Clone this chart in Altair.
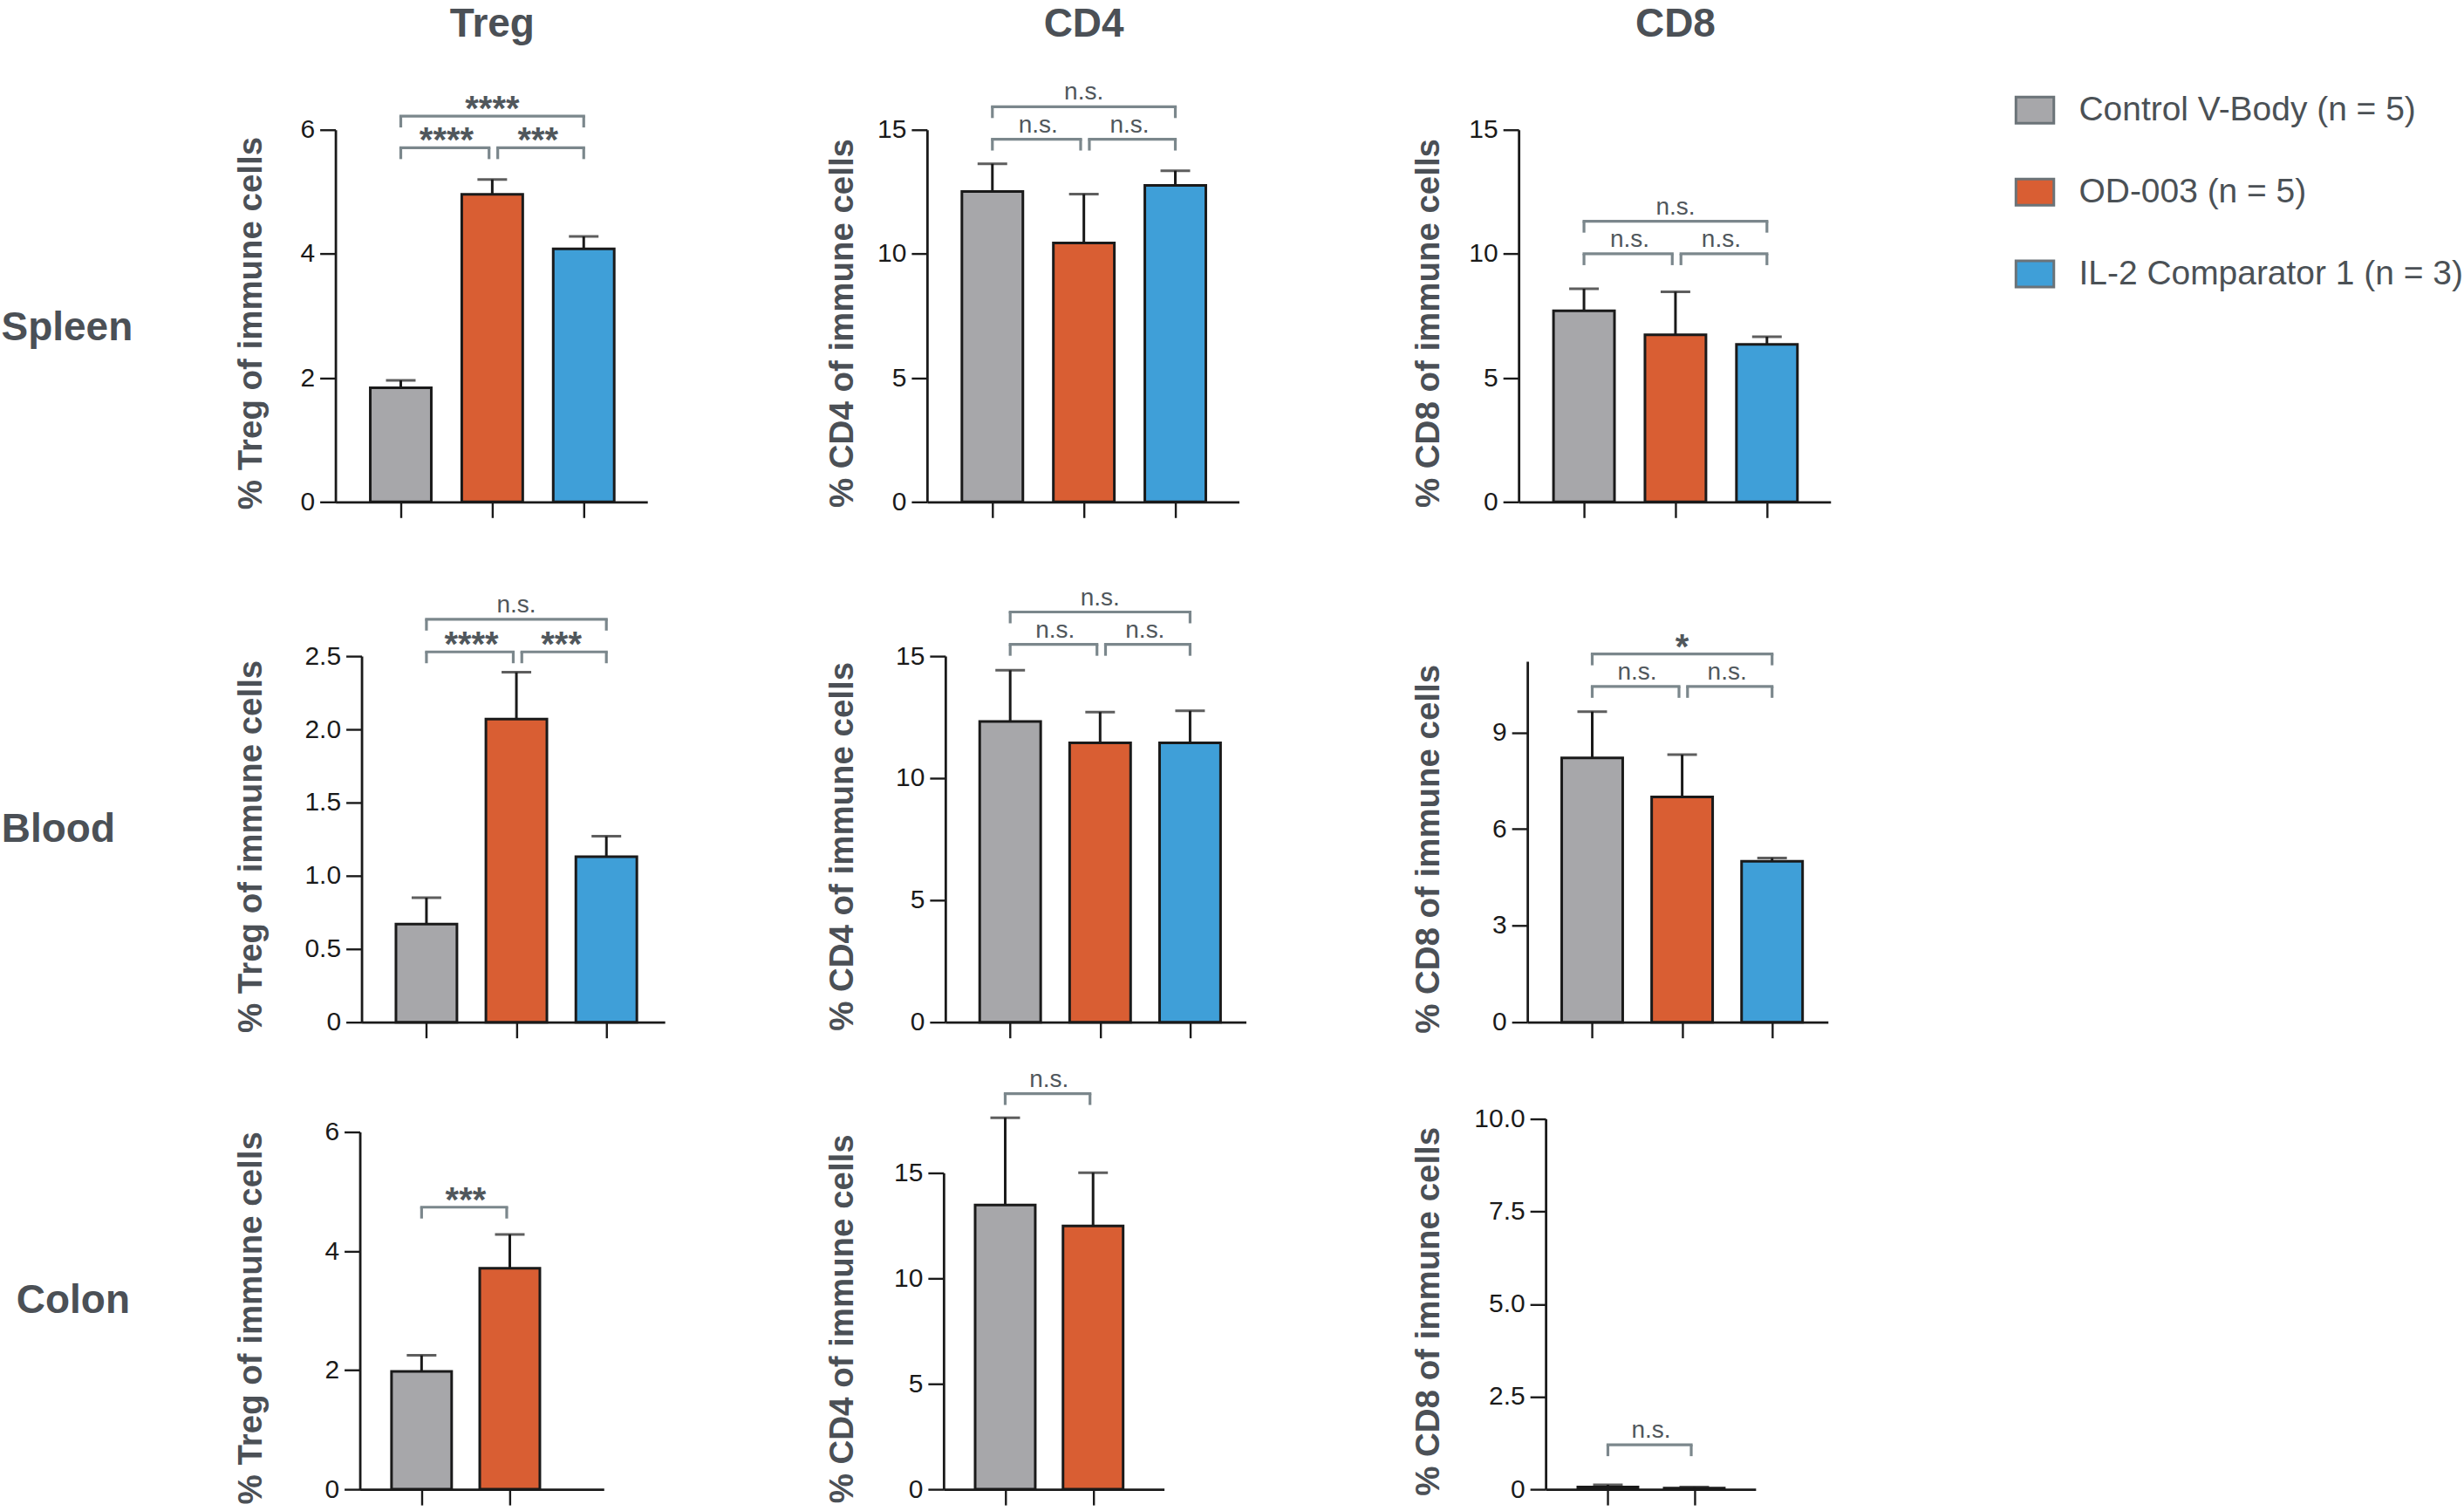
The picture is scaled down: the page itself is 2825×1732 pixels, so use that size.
import altair as alt
import pandas as pd

# ---------------- data ----------------
GROUPS = ["Control V-Body (n = 5)", "OD-003 (n = 5)", "IL-2 Comparator 1 (n = 3)"]
COLORS = ["#a7a7aa", "#d95e33", "#3f9fd8"]
ROW_NAMES = ["Spleen", "Blood", "Colon"]
COL_NAMES = ["Treg", "CD4", "CD8"]

spleen_treg_mean = [1.84, 4.96, 4.08]
spleen_treg_err = [0.12, 0.24, 0.20]
spleen_cd4_mean = [12.51, 10.44, 12.76]
spleen_cd4_err = [1.12, 1.97, 0.59]
spleen_cd8_mean = [7.70, 6.74, 6.35]
spleen_cd8_err = [0.89, 1.73, 0.31]

blood_treg_mean = [0.67, 2.07, 1.13]
blood_treg_err = [0.18, 0.32, 0.14]
blood_cd4_mean = [12.32, 11.45, 11.45]
blood_cd4_err = [2.10, 1.26, 1.31]
blood_cd8_mean = [8.21, 7.00, 5.00]
blood_cd8_err = [1.44, 1.31, 0.10]

colon_treg_mean = [1.98, 3.71]
colon_treg_err = [0.27, 0.57]
colon_cd4_mean = [13.48, 12.49]
colon_cd4_err = [4.14, 2.52]
colon_cd8_mean = [0.06, 0.03]
colon_cd8_err = [0.06, 0.03]

# significance brackets: (from group, to group, bracket height, label)
spleen_treg_sig = [(0, 1, 5.71, "****"), (1, 2, 5.71, "***"), (0, 2, 6.22, "****")]
spleen_cd4_sig = [(0, 1, 14.62, "n.s."), (1, 2, 14.62, "n.s."), (0, 2, 15.93, "n.s.")]
spleen_cd8_sig = [(0, 1, 10.0, "n.s."), (1, 2, 10.0, "n.s."), (0, 2, 11.31, "n.s.")]
blood_treg_sig = [(0, 1, 2.529, "****"), (1, 2, 2.529, "***"), (0, 2, 2.752, "n.s.")]
blood_cd4_sig = [(0, 1, 15.48, "n.s."), (1, 2, 15.48, "n.s."), (0, 2, 16.81, "n.s.")]
blood_cd8_sig = [(0, 1, 10.43, "n.s."), (1, 2, 10.43, "n.s."), (0, 2, 11.44, "*")]
colon_treg_sig = [(0, 1, 4.737, "***")]
colon_cd4_sig = [(0, 1, 18.76, "n.s.")]
colon_cd8_sig = [(0, 1, 1.2, "n.s.")]

# y axis: (domain max, tick values)
Y_TREG_SPLEEN = (6, [0, 2, 4, 6])
Y_15 = (15, [0, 5, 10, 15])
Y_TREG_BLOOD = (2.5, [0, 0.5, 1.0, 1.5, 2.0, 2.5])
Y_CD8_BLOOD = (11.21, [0, 3, 6, 9])
Y_CD8_COLON = (10, [0, 2.5, 5.0, 7.5, 10.0])

# ---------------- style / layout ----------------
FONT = "Liberation Sans"
INK = "#1a1a1a"
TITLE_C = "#4b5056"
BRACKET_C = "#7b878c"
SIG_C = "#50575c"
INT_FMT = "format(datum.value, 'd')"
DEC_FMT = "datum.value == 0 ? '0' : format(datum.value, '.1f')"

LABEL_W = 400
COL_START = [400, 1080, 1760]
COL_W = [680, 680, 370]
TITLE_XB = [308, 987, 1659]   # where the rotated y titles sit, one per column

LEGEND = alt.Legend(
    title=None, orient="none", direction="vertical", legendX=2316, legendY=106,
    symbolType="M-1.45,-1L1.45,-1L1.45,1L-1.45,1Z", symbolSize=900,
    symbolStrokeColor="#6b7378", symbolStrokeWidth=3, symbolOpacity=1,
    labelFont=FONT, labelFontSize=39, labelColor="#4b5156", labelOffset=31,
    labelLimit=1000, rowPadding=51, padding=0,
)
COLOR_SCALE = alt.Scale(domain=GROUPS, range=COLORS)


def panel(means, errs, sig, yspec, fmt, ytitle, col, axis_x, cell_h, L, a, step, h,
          bar_w=70, col_title=None, title_y=None):
    n = len(means)
    ymax, yticks = yspec
    dx = axis_x - COL_START[col]
    df = pd.DataFrame({
        "pos": list(range(n)),
        "group": GROUPS[:n],
        "mean": means,
        "top": [m + e for m, e in zip(means, errs)],
    })
    rows, legs = [], []
    for i, j, y, lab in sig:
        x1 = i + (0.06 if (i == 1) else 0.0)
        x2 = j - (0.035 if (j == 1) else 0.0)
        rows.append({"x1": x1, "x2": x2, "y": y, "label": lab, "mid": (i + j) / 2})
        legs.append({"lx": x1, "y": y})
        legs.append({"lx": x2, "y": y})
    bdf = pd.DataFrame(rows)
    ldf = pd.DataFrame(legs)

    if title_y is None:
        title_y = cell_h - h / 2 + 8

    xs = alt.Scale(domain=[-a / step, (L - a) / step], range=[dx, dx + L], nice=False, zero=False)
    ys = alt.Scale(domain=[0, ymax], range=[cell_h, cell_h - h], nice=False, zero=False)
    xaxis = alt.Axis(values=list(range(n)), labels=False, title=None, grid=False,
                     tickSize=18, tickWidth=2.4, tickColor=INK,
                     domainColor=INK, domainWidth=2.8)
    yaxis = alt.Axis(values=yticks, labelExpr=fmt, title=ytitle, grid=False, offset=-dx,
                     tickSize=18, tickWidth=2.4, tickColor=INK,
                     domainColor=INK, domainWidth=2.8,
                     labelFont=FONT, labelFontSize=30, labelColor=INK, labelPadding=6,
                     titleFont=FONT, titleFontSize=38.5, titleFontWeight="bold",
                     titleColor=TITLE_C, titlePadding=36,
                     titleX=TITLE_XB[col] - axis_x, titleY=title_y)

    def X(f):
        return alt.X(f, type="quantitative", scale=xs, axis=xaxis)

    def Y(f):
        return alt.Y(f, type="quantitative", scale=ys, axis=yaxis)

    bars = alt.Chart(df).mark_bar(size=bar_w, stroke=INK, strokeWidth=3).encode(
        x=X("pos"), y=Y("mean"),
        color=alt.Color("group:N", scale=COLOR_SCALE, legend=LEGEND),
    )
    stem = alt.Chart(df).mark_rule(color=INK, strokeWidth=3).encode(
        x=X("pos"), y=Y("mean"), y2="top:Q")
    cap = alt.Chart(df).mark_tick(orient="horizontal", size=34, thickness=3, color=INK).encode(
        x=X("pos"), y=Y("top"))
    hline = alt.Chart(bdf).mark_rule(color=BRACKET_C, strokeWidth=3.2, strokeCap="square").encode(
        x=X("x1"), x2="x2:Q", y=Y("y"))
    leg = alt.Chart(ldf).mark_rule(color=BRACKET_C, strokeWidth=3.2, y2Offset=13).encode(
        x=X("lx"), y=Y("y"), y2="y:Q")
    stars = alt.Chart(bdf).transform_filter("indexof(datum.label, '*') >= 0").mark_text(
        font=FONT, fontSize=40, fontWeight="bold", color=SIG_C, baseline="alphabetic", dy=5
    ).encode(x=X("mid"), y=Y("y"), text="label:N")
    ns = alt.Chart(bdf).transform_filter("datum.label == 'n.s.'").mark_text(
        font=FONT, fontSize=28, color=SIG_C, baseline="alphabetic", dy=-8
    ).encode(x=X("mid"), y=Y("y"), text="label:N")
    layers = [bars, stem, cap, hline, leg, stars, ns]
    if col_title is not None:
        tdf = pd.DataFrame({"pos": [1], "t": [col_title]})
        layers.append(alt.Chart(tdf).mark_text(
            font=FONT, fontSize=46, fontWeight="bold", color=TITLE_C, baseline="middle"
        ).encode(x=X("pos"), y=alt.value(27), text="t:N"))
    return alt.layer(*layers).properties(width=COL_W[col], height=cell_h)


def row_label(name, cell_h, lx, ly):
    return alt.Chart(pd.DataFrame({"t": [name]})).mark_text(
        font=FONT, fontSize=46, fontWeight="bold", color=TITLE_C, align="center", baseline="middle"
    ).encode(text="t:N", x=alt.value(lx), y=alt.value(ly)).properties(width=LABEL_W, height=cell_h)


T_TREG = "% Treg of immune cells"
T_CD4 = "% CD4 of immune cells"
T_CD8 = "% CD8 of immune cells"

H1, H2, H3 = 575, 597, 536
cells = [
    # row 1: Spleen
    row_label(ROW_NAMES[0], H1, 77, 375),
    panel(spleen_treg_mean, spleen_treg_err, spleen_treg_sig, Y_TREG_SPLEEN, INT_FMT, T_TREG,
          0, 385, H1, 358, 72, 108, 427, col_title=COL_NAMES[0]),
    panel(spleen_cd4_mean, spleen_cd4_err, spleen_cd4_sig, Y_15, INT_FMT, T_CD4,
          1, 1064, H1, 358, 72, 108, 427, col_title=COL_NAMES[1]),
    panel(spleen_cd8_mean, spleen_cd8_err, spleen_cd8_sig, Y_15, INT_FMT, T_CD8,
          2, 1743, H1, 358, 72, 108, 427, col_title=COL_NAMES[2]),
    # row 2: Blood
    row_label(ROW_NAMES[1], H2, 67, 376),
    panel(blood_treg_mean, blood_treg_err, blood_treg_sig, Y_TREG_BLOOD, DEC_FMT, T_TREG,
          0, 415, H2, 348, 71.5, 106.3, 420),
    panel(blood_cd4_mean, blood_cd4_err, blood_cd4_sig, Y_15, INT_FMT, T_CD4,
          1, 1085, H2, 345, 71.5, 106.3, 420),
    panel(blood_cd8_mean, blood_cd8_err, blood_cd8_sig, Y_CD8_BLOOD, INT_FMT, T_CD8,
          2, 1753, H2, 345, 71.5, 106.3, 414),
    # row 3: Colon
    row_label(ROW_NAMES[2], H3, 84, 320),
    panel(colon_treg_mean, colon_treg_err, colon_treg_sig, Y_TREG_SPLEEN, INT_FMT, T_TREG,
          0, 413, H3, 280, 68.3, 105, 410, bar_w=69),
    panel(colon_cd4_mean, colon_cd4_err, colon_cd4_sig, Y_15, INT_FMT, T_CD4,
          1, 1083, H3, 253, 68.4, 105, 363, bar_w=69, title_y=340),
    panel(colon_cd8_mean, colon_cd8_err, colon_cd8_sig, Y_CD8_COLON, DEC_FMT, T_CD8,
          2, 1774, H3, 241, 69.3, 103.4, 425, bar_w=69),
]

chart = alt.concat(*cells, columns=4, spacing=0, bounds="flush", align="none").properties(
    padding=0, background="white"
).configure_view(stroke=None)

chart.save("out.html", embed_options={"renderer": "svg", "actions": False})
